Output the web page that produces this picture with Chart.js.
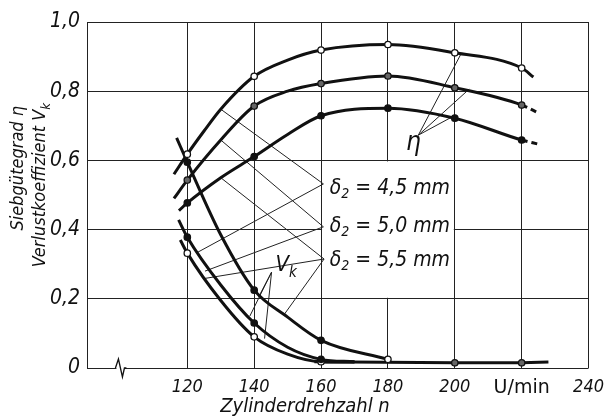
<!DOCTYPE html>
<html>
<head>
<meta charset="utf-8">
<script src="https://cdn.jsdelivr.net/npm/chart.js@4"></script>
<style>
  html, body { margin: 0; padding: 0; background: #fff; }
  #c { display: block; }
</style>
</head>
<body>
<canvas id="c" width="613" height="418"></canvas>
<script>
// x values (U/min) and curve values
const xTicks = [120, 140, 160, 180, 200, 220, 240];
const yTicks = [0, 0.2, 0.4, 0.6, 0.8, 1.0];
const markX = [120, 140, 160, 180, 200, 220];

const eta45X = [116, 120, 125, 130, 140, 150, 160, 180, 200, 220, 223.5];
const eta45Y = [0.56, 0.618, 0.685, 0.748, 0.843, 0.89, 0.919, 0.935, 0.911, 0.867, 0.841];
const eta50X = [116, 120, 130, 140, 150, 160, 180, 200, 220, 225];
const eta50Y = [0.49, 0.543, 0.659, 0.757, 0.80, 0.822, 0.844, 0.81, 0.76, 0.737];
const eta55X = [117.5, 120, 130, 140, 150, 160, 180, 200, 220, 225];
const eta55Y = [0.455, 0.477, 0.55, 0.611, 0.675, 0.729, 0.751, 0.722, 0.659, 0.647];

const vkTopX = [116.8, 120, 130, 140, 150, 160, 180];
const vkTopY = [0.665, 0.595, 0.385, 0.225, 0.147, 0.08, 0.025];
const vkMidX = [117.4, 120, 130, 140, 150, 160, 170];
const vkMidY = [0.428, 0.378, 0.24, 0.13, 0.06, 0.025, 0.018];
const vkLowX = [117.9, 120, 130, 140, 150, 160, 170];
const vkLowY = [0.37, 0.332, 0.195, 0.09, 0.04, 0.018, 0.017];
const flatX = [158, 200, 220, 228];
const flatY = [0.018, 0.015, 0.015, 0.017];

// leader lines: [from, apex]
const leaders = [
  [[130, 0.748], [160.7, 0.532]],
  [[130, 0.659], [160.7, 0.408]],
  [[130, 0.55], [160.9, 0.315]],
  [[123.2, 0.335], [160.7, 0.532]],
  [[125.3, 0.28], [160.7, 0.408]],
  [[124.7, 0.258], [160.9, 0.315]],
  [[149, 0.155], [160.9, 0.315]],
  [[201.7, 0.905], [189.1, 0.673]],
  [[204.3, 0.806], [189.1, 0.673]],
  [[200.2, 0.731], [189.1, 0.673]],
  [[141.3, 0.205], [145.2, 0.277]],
  [[138.7, 0.15], [145.2, 0.277]],
  [[143.1, 0.085], [145.2, 0.277]]
];

const deltaLabels = ["4,5", "5,0", "5,5"];
const deltaY = [0.52, 0.41, 0.312];

const FONT = '"Liberation Sans Narrow", "DejaVu Sans Condensed", sans-serif';

function pts(xs, ys) { return xs.map((x, i) => ({ x: x, y: ys[i] })); }

function curve(xs, ys, fill, dashLast) {
  const last = xs.length - 1;
  return {
    data: pts(xs, ys),
    borderColor: "#111",
    borderWidth: 3,
    cubicInterpolationMode: "monotone",
    pointRadius: ctx => markX.includes(ctx.raw && ctx.raw.x) ? 3.2 : 0,
    pointBackgroundColor: fill,
    pointBorderColor: "#111",
    pointBorderWidth: 1.3,
    segment: dashLast ? { borderDash: ctx => ctx.p1DataIndex === last ? [6, 4] : undefined } : undefined
  };
}

const datasets = [
  curve(eta45X, eta45Y, "#fff", false),
  curve(eta50X, eta50Y, "#666", true),
  curve(eta55X, eta55Y, "#111", true),
  curve(vkTopX, vkTopY, ctx => ctx.raw && ctx.raw.x === 180 ? "#fff" : "#111", false),
  curve(vkMidX, vkMidY, "#111", false),
  curve(vkLowX, vkLowY, "#fff", false),
  curve(flatX, flatY, "#666", false)
];
datasets[6].cubicInterpolationMode = "default";
datasets[6].tension = 0;

leaders.forEach(l => {
  datasets.push({
    data: pts([l[0][0], l[1][0]], [l[0][1], l[1][1]]),
    borderColor: "#222",
    borderWidth: 1,
    pointRadius: 0,
    tension: 0
  });
});

function drawSub(ctx, main, sub, x, y, size, align) {
  ctx.font = "italic " + size + "px " + FONT;
  const w1 = ctx.measureText(main).width;
  ctx.font = "italic " + Math.round(size * 0.7) + "px " + FONT;
  const w2 = ctx.measureText(sub).width;
  let x0 = align === "right" ? x - w1 - w2 : x;
  ctx.textAlign = "left";
  ctx.font = "italic " + size + "px " + FONT;
  ctx.fillText(main, x0, y);
  ctx.font = "italic " + Math.round(size * 0.7) + "px " + FONT;
  ctx.fillText(sub, x0 + w1, y + size * 0.25);
}

const decor = {
  id: "decor",
  beforeDatasetsDraw(chart) {
    const { ctx, scales: { x, y } } = chart;
    // blank box behind the labels
    ctx.save();
    ctx.fillStyle = "#fff";
    const l = x.getPixelForValue(160) + 1, r = x.getPixelForValue(200) - 1;
    const t = y.getPixelForValue(0.6) + 1, b = y.getPixelForValue(0.2) - 1;
    ctx.fillRect(l, t, r - l, b - t);
    ctx.restore();
  },
  afterDraw(chart) {
    const { ctx, scales: { x, y } } = chart;
    ctx.save();
    ctx.fillStyle = "#111";
    ctx.textBaseline = "middle";

    // delta labels
    deltaLabels.forEach((s, i) => {
      const px = x.getPixelForValue(162.6), py = y.getPixelForValue(deltaY[i]);
      ctx.font = "italic 21px " + FONT;
      const w1 = ctx.measureText("δ").width;
      ctx.textAlign = "left";
      ctx.fillText("δ", px, py);
      ctx.font = "italic 14px " + FONT;
      ctx.fillText("2", px + w1, py + 6);
      const w2 = ctx.measureText("2").width;
      ctx.font = "italic 21px " + FONT;
      ctx.fillText(" = " + s + " mm", px + w1 + w2, py);
    });

    // eta and V_k labels
    ctx.textBaseline = "alphabetic";
    ctx.font = "italic 26px " + FONT;
    ctx.textAlign = "center";
    ctx.fillText("η", x.getPixelForValue(187.6), y.getPixelForValue(0.63));
    drawSub(ctx, "V", "k", x.getPixelForValue(146.4), y.getPixelForValue(0.28), 22, "left");

    // y axis titles (rotated)
    ctx.save();
    ctx.translate(23, 106);
    ctx.rotate(-Math.PI / 2);
    ctx.font = "italic 18px " + FONT;
    ctx.textAlign = "right";
    ctx.fillText("Siebgütegrad η", 0, 0);
    ctx.restore();
    ctx.save();
    ctx.translate(45, 103);
    ctx.rotate(-Math.PI / 2);
    drawSub(ctx, "Verlustkoeffizient V", "k", 0, 0, 18, "right");
    ctx.restore();

    // x axis title
    ctx.font = "italic 20px " + FONT;
    ctx.textAlign = "center";
    ctx.fillText("Zylinderdrehzahl n", 305, 412);

    // axis break on the base line
    const bx = x.getPixelForValue(100), by = y.getPixelForValue(0);
    ctx.fillStyle = "#fff";
    ctx.fillRect(bx - 4, by - 2, 8, 4);
    ctx.strokeStyle = "#111";
    ctx.lineWidth = 1.3;
    ctx.beginPath();
    ctx.moveTo(bx - 5, by);
    ctx.lineTo(bx - 2, by - 9);
    ctx.lineTo(bx + 2, by + 9);
    ctx.lineTo(bx + 4, by);
    ctx.lineTo(bx + 6, by);
    ctx.stroke();
    ctx.restore();
  }
};

new Chart(document.getElementById("c"), {
  type: "line",
  data: { datasets: datasets },
  plugins: [decor],
  options: {
    responsive: false,
    animation: false,
    events: [],
    layout: { padding: { left: 0, right: 15, top: 22, bottom: 0 } },
    plugins: { legend: { display: false }, tooltip: { enabled: false } },
    scales: {
      x: {
        type: "linear",
        min: 90,
        max: 240,
        afterBuildTicks: s => { s.ticks = xTicks.map(v => ({ value: v })); },
        afterFit: s => { s.height = 50; },
        grid: { color: "#222", lineWidth: 1, drawTicks: false },
        border: { display: false },
        ticks: {
          padding: 9,
          color: "#111",
          font: ctx => ctx.tick && ctx.tick.value === 220
            ? { family: "DejaVu Sans", size: 19, style: "normal" }
            : { family: FONT, size: 18, style: "italic" },
          callback: v => v === 220 ? "U/min" : String(v)
        }
      },
      y: {
        min: 0,
        max: 1,
        afterBuildTicks: s => { s.ticks = yTicks.map(v => ({ value: v })); },
        afterFit: s => { s.width = 87; },
        grid: { color: "#222", lineWidth: 1, drawTicks: false },
        border: { display: true, color: "#222", width: 1 },
        ticks: {
          padding: 7,
          color: "#111",
          font: { family: FONT, size: 21, style: "italic" },
          callback: v => v === 0 ? "0" : v.toFixed(1).replace(".", ",")
        }
      }
    }
  }
});
</script>
</body>
</html>
